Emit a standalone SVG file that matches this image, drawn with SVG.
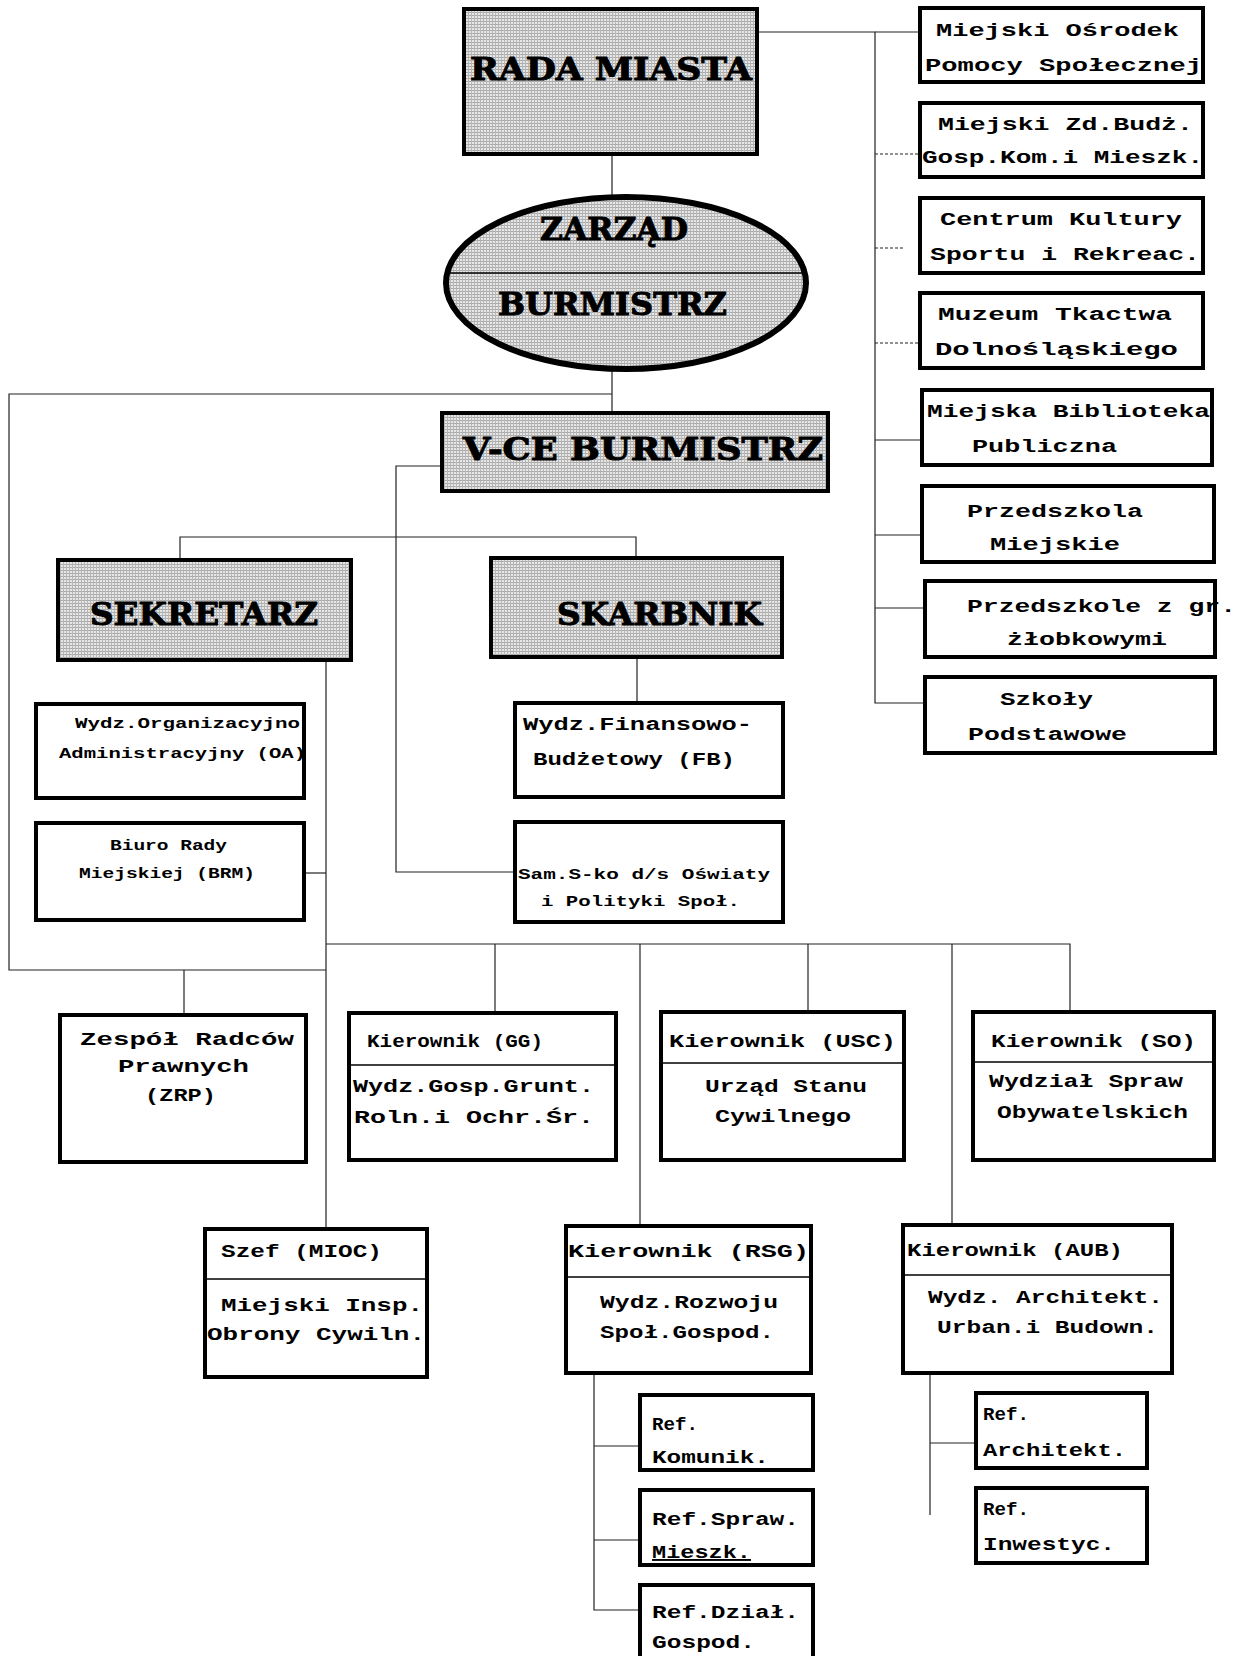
<svg xmlns="http://www.w3.org/2000/svg" width="1239" height="1656" viewBox="0 0 1239 1656">
<style>
.box{fill:#fff;stroke:#000;stroke-width:4}
.hbox{fill:url(#ht);stroke:#000;stroke-width:4}
.div{stroke:#000;stroke-width:1.5}
.ln{stroke:#222;stroke-width:1.2;fill:none}
.dot{stroke-dasharray:3 2}
text{font-family:"Liberation Mono","DejaVu Sans Mono",monospace;font-weight:bold;fill:#000}
text.h{font-family:"DejaVu Serif","Liberation Serif",serif;font-size:32px;stroke:#000;stroke-width:1}
.m{font-size:19px}
.s{font-size:15px}
</style>
<defs>
<pattern id="ht" width="3" height="3" patternUnits="userSpaceOnUse">
<rect width="3" height="3" fill="#e6e6e6"/>
<rect width="3" height="1" fill="#aaaaaa"/>
<rect width="1" height="3" fill="#b6b6b6"/>
</pattern>
</defs>
<rect width="1239" height="1656" fill="#fff"/>

<g id="connectors">
<polyline class="ln" points="757,32 875,32 875,703 925,703"/>
<line class="ln" x1="875" y1="32" x2="920" y2="32"/>
<line class="ln dot" x1="875" y1="154" x2="920" y2="154"/>
<line class="ln dot" x1="875" y1="248" x2="905" y2="248"/>
<line class="ln dot" x1="875" y1="343" x2="920" y2="343"/>
<line class="ln" x1="875" y1="440" x2="922" y2="440"/>
<line class="ln" x1="875" y1="535" x2="922" y2="535"/>
<line class="ln" x1="875" y1="608" x2="925" y2="608"/>
<line class="ln" x1="612" y1="154" x2="612" y2="197"/>
<line class="ln" x1="612" y1="369" x2="612" y2="413"/>
<polyline class="ln" points="612,394 9,394 9,970 326,970"/>
<line class="ln" x1="184" y1="970" x2="184" y2="1015"/>
<polyline class="ln" points="442,466 396,466 396,872 515,872"/>
<polyline class="ln" points="180,560 180,537 636,537 636,558"/>
<line class="ln" x1="637" y1="657" x2="637" y2="703"/>
<line class="ln" x1="326" y1="660" x2="326" y2="1229"/>
<line class="ln" x1="304" y1="873" x2="326" y2="873"/>
<polyline class="ln" points="326,944 1070,944 1070,1012"/>
<line class="ln" x1="495" y1="944" x2="495" y2="1013"/>
<line class="ln" x1="640" y1="944" x2="640" y2="1226"/>
<line class="ln" x1="808" y1="944" x2="808" y2="1012"/>
<line class="ln" x1="952" y1="944" x2="952" y2="1225"/>
<polyline class="ln" points="594,1373 594,1610 640,1610"/>
<line class="ln" x1="594" y1="1446" x2="640" y2="1446"/>
<line class="ln" x1="594" y1="1540" x2="640" y2="1540"/>
<line class="ln" x1="930" y1="1373" x2="930" y2="1515"/>
<line class="ln" x1="930" y1="1443" x2="976" y2="1443"/>
</g>

<g id="rada-miasta">
<rect class="hbox" x="464" y="9" width="293" height="145"/>
<text class="h" x="470" y="80" textLength="282" lengthAdjust="spacingAndGlyphs">RADA MIASTA</text>
</g>

<g id="zarzad-burmistrz">
<ellipse cx="626" cy="283" rx="180" ry="86" fill="url(#ht)" stroke="#000" stroke-width="6"/>
<line class="div" x1="450" y1="273" x2="802" y2="273"/>
<text class="h" x="540" y="240" textLength="148" lengthAdjust="spacingAndGlyphs">ZARZĄD</text>
<text class="h" x="498" y="315" textLength="229" lengthAdjust="spacingAndGlyphs">BURMISTRZ</text>
</g>

<g id="vce-burmistrz">
<rect class="hbox" x="442" y="413" width="386" height="78"/>
<text class="h" x="463" y="460" textLength="360" lengthAdjust="spacingAndGlyphs">V-CE BURMISTRZ</text>
</g>

<g id="sekretarz">
<rect class="hbox" x="58" y="560" width="293" height="100"/>
<text class="h" x="90" y="625" textLength="228" lengthAdjust="spacingAndGlyphs">SEKRETARZ</text>
</g>

<g id="skarbnik">
<rect class="hbox" x="491" y="558" width="291" height="99"/>
<text class="h" x="557" y="625" textLength="205" lengthAdjust="spacingAndGlyphs">SKARBNIK</text>
</g>

<g id="mops">
<rect class="box" x="920" y="8" width="283" height="74"/>
<text class="m" x="936" y="36" textLength="243" lengthAdjust="spacingAndGlyphs">Miejski Ośrodek</text>
<text class="m" x="925" y="71" textLength="277" lengthAdjust="spacingAndGlyphs">Pomocy Społecznej</text>
</g>
<g id="mzbgkm">
<rect class="box" x="920" y="103" width="283" height="74"/>
<text class="m" x="938" y="130" textLength="255" lengthAdjust="spacingAndGlyphs">Miejski Zd.Budż.</text>
<text class="m" x="922" y="163" textLength="281" lengthAdjust="spacingAndGlyphs">Gosp.Kom.i Mieszk.</text>
</g>
<g id="centrum-kultury">
<rect class="box" x="920" y="198" width="283" height="75"/>
<text class="m" x="940" y="225" textLength="242" lengthAdjust="spacingAndGlyphs">Centrum Kultury</text>
<text class="m" x="930" y="260" textLength="270" lengthAdjust="spacingAndGlyphs">Sportu i Rekreac.</text>
</g>
<g id="muzeum">
<rect class="box" x="920" y="293" width="283" height="75"/>
<text class="m" x="938" y="320" textLength="234" lengthAdjust="spacingAndGlyphs">Muzeum Tkactwa</text>
<text class="m" x="935" y="355" textLength="243" lengthAdjust="spacingAndGlyphs">Dolnośląskiego</text>
</g>
<g id="biblioteka">
<rect class="box" x="922" y="390" width="290" height="75"/>
<text class="m" x="927" y="417" textLength="283" lengthAdjust="spacingAndGlyphs">Miejska Biblioteka</text>
<text class="m" x="972" y="452" textLength="145" lengthAdjust="spacingAndGlyphs">Publiczna</text>
</g>
<g id="przedszkola">
<rect class="box" x="922" y="486" width="292" height="76"/>
<text class="m" x="967" y="517" textLength="176" lengthAdjust="spacingAndGlyphs">Przedszkola</text>
<text class="m" x="990" y="550" textLength="130" lengthAdjust="spacingAndGlyphs">Miejskie</text>
</g>
<g id="przedszkole-zlobek">
<rect class="box" x="925" y="581" width="290" height="76"/>
<text class="m" x="967" y="612" textLength="269" lengthAdjust="spacingAndGlyphs">Przedszkole z gr.</text>
<text class="m" x="1007" y="645" textLength="160" lengthAdjust="spacingAndGlyphs">żłobkowymi</text>
</g>
<g id="szkoly">
<rect class="box" x="925" y="677" width="290" height="76"/>
<text class="m" x="1000" y="705" textLength="93" lengthAdjust="spacingAndGlyphs">Szkoły</text>
<text class="m" x="968" y="740" textLength="159" lengthAdjust="spacingAndGlyphs">Podstawowe</text>
</g>

<g id="wydz-oa">
<rect class="box" x="36" y="704" width="268" height="94"/>
<text class="s" x="75" y="728" textLength="225" lengthAdjust="spacingAndGlyphs">Wydz.Organizacyjno</text>
<text class="s" x="59" y="758" textLength="247" lengthAdjust="spacingAndGlyphs">Administracyjny (OA)</text>
</g>
<g id="biuro-rady">
<rect class="box" x="36" y="823" width="268" height="97"/>
<text class="s" x="110" y="850" textLength="117" lengthAdjust="spacingAndGlyphs">Biuro Rady</text>
<text class="s" x="79" y="878" textLength="176" lengthAdjust="spacingAndGlyphs">Miejskiej (BRM)</text>
</g>
<g id="wydz-fb">
<rect class="box" x="515" y="703" width="268" height="94"/>
<text class="m" x="523" y="730" textLength="229" lengthAdjust="spacingAndGlyphs">Wydz.Finansowo-</text>
<text class="m" x="533" y="765" textLength="202" lengthAdjust="spacingAndGlyphs">Budżetowy (FB)</text>
</g>
<g id="sam-oswiaty">
<rect class="box" x="515" y="822" width="268" height="100"/>
<text class="s" x="518" y="879" textLength="252" lengthAdjust="spacingAndGlyphs">Sam.S-ko d/s Oświaty</text>
<text class="s" x="541" y="906" textLength="199" lengthAdjust="spacingAndGlyphs">i Polityki Społ.</text>
</g>

<g id="zrp">
<rect class="box" x="60" y="1015" width="246" height="147"/>
<text class="m" x="80" y="1045" textLength="214" lengthAdjust="spacingAndGlyphs">Zespół Radców</text>
<text class="m" x="118" y="1072" textLength="131" lengthAdjust="spacingAndGlyphs">Prawnych</text>
<text class="m" x="145" y="1101" textLength="71" lengthAdjust="spacingAndGlyphs">(ZRP)</text>
</g>
<g id="kier-gg">
<rect class="box" x="349" y="1013" width="267" height="147"/>
<line class="div" x1="349" y1="1065" x2="616" y2="1065"/>
<text class="m" x="367" y="1047" textLength="176" lengthAdjust="spacingAndGlyphs">Kierownik (GG)</text>
<text class="m" x="353" y="1092" textLength="241" lengthAdjust="spacingAndGlyphs">Wydz.Gosp.Grunt.</text>
<text class="m" x="354" y="1123" textLength="240" lengthAdjust="spacingAndGlyphs">Roln.i Ochr.Śr.</text>
</g>
<g id="kier-usc">
<rect class="box" x="661" y="1012" width="243" height="148"/>
<line class="div" x1="661" y1="1063" x2="904" y2="1063"/>
<text class="m" x="669" y="1047" textLength="227" lengthAdjust="spacingAndGlyphs">Kierownik (USC)</text>
<text class="m" x="705" y="1092" textLength="162" lengthAdjust="spacingAndGlyphs">Urząd Stanu</text>
<text class="m" x="715" y="1122" textLength="136" lengthAdjust="spacingAndGlyphs">Cywilnego</text>
</g>
<g id="kier-so">
<rect class="box" x="973" y="1012" width="241" height="148"/>
<line class="div" x1="973" y1="1062" x2="1214" y2="1062"/>
<text class="m" x="991" y="1047" textLength="205" lengthAdjust="spacingAndGlyphs">Kierownik (SO)</text>
<text class="m" x="989" y="1087" textLength="194" lengthAdjust="spacingAndGlyphs">Wydział Spraw</text>
<text class="m" x="997" y="1118" textLength="191" lengthAdjust="spacingAndGlyphs">Obywatelskich</text>
</g>
<g id="szef-mioc">
<rect class="box" x="205" y="1229" width="222" height="148"/>
<line class="div" x1="205" y1="1279" x2="427" y2="1279"/>
<text class="m" x="221" y="1257" textLength="161" lengthAdjust="spacingAndGlyphs">Szef (MIOC)</text>
<text class="m" x="221" y="1311" textLength="202" lengthAdjust="spacingAndGlyphs">Miejski Insp.</text>
<text class="m" x="207" y="1340" textLength="218" lengthAdjust="spacingAndGlyphs">Obrony Cywiln.</text>
</g>
<g id="kier-rsg">
<rect class="box" x="566" y="1226" width="245" height="147"/>
<line class="div" x1="566" y1="1277" x2="811" y2="1277"/>
<text class="m" x="568" y="1257" textLength="241" lengthAdjust="spacingAndGlyphs">Kierownik (RSG)</text>
<text class="m" x="600" y="1308" textLength="178" lengthAdjust="spacingAndGlyphs">Wydz.Rozwoju</text>
<text class="m" x="600" y="1338" textLength="174" lengthAdjust="spacingAndGlyphs">Społ.Gospod.</text>
</g>
<g id="kier-aub">
<rect class="box" x="903" y="1225" width="269" height="148"/>
<line class="div" x1="903" y1="1275" x2="1172" y2="1275"/>
<text class="m" x="907" y="1256" textLength="216" lengthAdjust="spacingAndGlyphs">Kierownik (AUB)</text>
<text class="m" x="928" y="1303" textLength="235" lengthAdjust="spacingAndGlyphs">Wydz. Architekt.</text>
<text class="m" x="937" y="1333" textLength="221" lengthAdjust="spacingAndGlyphs">Urban.i Budown.</text>
</g>

<g id="ref-komunik">
<rect class="box" x="640" y="1395" width="173" height="75"/>
<text class="m" x="652" y="1430" textLength="46" lengthAdjust="spacingAndGlyphs">Ref.</text>
<text class="m" x="652" y="1463" textLength="117" lengthAdjust="spacingAndGlyphs">Komunik.</text>
</g>
<g id="ref-spraw">
<rect class="box" x="640" y="1490" width="173" height="75"/>
<text class="m" x="652" y="1525" textLength="147" lengthAdjust="spacingAndGlyphs">Ref.Spraw.</text>
<text class="m" x="652" y="1558" textLength="99" lengthAdjust="spacingAndGlyphs" text-decoration="underline">Mieszk.</text>
</g>
<g id="ref-dzial">
<rect class="box" x="640" y="1585" width="173" height="80"/>
<text class="m" x="652" y="1618" textLength="147" lengthAdjust="spacingAndGlyphs">Ref.Dział.</text>
<text class="m" x="652" y="1648" textLength="103" lengthAdjust="spacingAndGlyphs">Gospod.</text>
</g>
<g id="ref-architekt">
<rect class="box" x="976" y="1393" width="171" height="75"/>
<text class="m" x="983" y="1420" textLength="46" lengthAdjust="spacingAndGlyphs">Ref.</text>
<text class="m" x="983" y="1456" textLength="143" lengthAdjust="spacingAndGlyphs">Architekt.</text>
</g>
<g id="ref-inwestyc">
<rect class="box" x="976" y="1488" width="171" height="75"/>
<text class="m" x="983" y="1515" textLength="46" lengthAdjust="spacingAndGlyphs">Ref.</text>
<text class="m" x="983" y="1550" textLength="132" lengthAdjust="spacingAndGlyphs">Inwestyc.</text>
</g>
</svg>
